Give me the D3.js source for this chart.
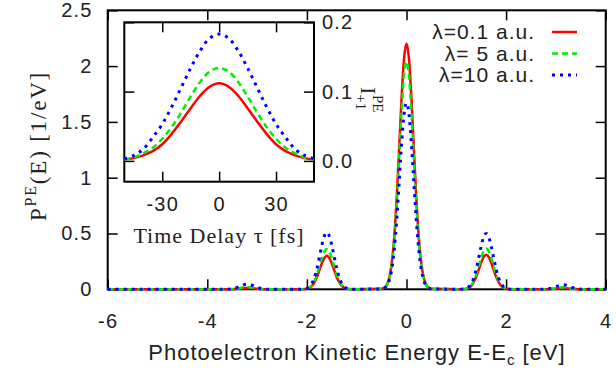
<!DOCTYPE html>
<html>
<head>
<meta charset="utf-8">
<script src="https://cdn.jsdelivr.net/npm/d3@7"></script>
<style>
  body { margin: 0; background: #fff; }
  svg { display: block; }
</style>
</head>
<body>
<figure id="chart" style="margin:0"></figure>
<script>
// main spectrum
const energy = [-6, -3.7,
  -3.6, -3.5, -3.4, -3.3, -3.2, -3.1, -3.0, -2.9, -2.8,
  -2.1, -2.05, -2.0, -1.95, -1.9, -1.85, -1.8, -1.75, -1.7, -1.65, -1.6, -1.55, -1.5, -1.45, -1.4, -1.35, -1.3, -1.25, -1.2, -1.15, -1.1,
  -0.5, -0.45, -0.4, -0.35, -0.3, -0.25, -0.2, -0.15, -0.1, -0.05, 0, 0.05, 0.1, 0.15, 0.2, 0.25, 0.3, 0.35, 0.4, 0.45, 0.5,
  1.1, 1.15, 1.2, 1.25, 1.3, 1.35, 1.4, 1.45, 1.5, 1.55, 1.6, 1.65, 1.7, 1.75, 1.8, 1.85, 1.9, 1.95, 2.0, 2.05, 2.1,
  2.75, 2.85, 2.95, 3.05, 3.15, 3.25, 3.35, 3.45, 3.55,
  4];
const specRed = [0, 0,
  0, 0.001, 0.004, 0.009, 0.012, 0.009, 0.004, 0.001, 0,
  0.001, 0.002, 0.005, 0.013, 0.030, 0.061, 0.108, 0.169, 0.233, 0.281, 0.300, 0.281, 0.233, 0.169, 0.108, 0.061, 0.030, 0.013, 0.005, 0.002, 0.001,
  0.004, 0.013, 0.037, 0.097, 0.222, 0.447, 0.792, 1.239, 1.705, 2.064, 2.20, 2.064, 1.705, 1.239, 0.792, 0.447, 0.222, 0.097, 0.037, 0.013, 0.004,
  0.001, 0.002, 0.005, 0.014, 0.031, 0.063, 0.112, 0.175, 0.240, 0.291, 0.310, 0.291, 0.240, 0.175, 0.112, 0.063, 0.031, 0.014, 0.005, 0.002, 0.001,
  0, 0.001, 0.004, 0.008, 0.010, 0.008, 0.004, 0.001, 0,
  0];
const specGreen = [0, 0,
  0, 0.002, 0.007, 0.016, 0.020, 0.016, 0.007, 0.002, 0,
  0.001, 0.002, 0.006, 0.016, 0.036, 0.073, 0.130, 0.203, 0.279, 0.338, 0.360, 0.338, 0.279, 0.203, 0.130, 0.073, 0.036, 0.016, 0.006, 0.002, 0.001,
  0.003, 0.012, 0.034, 0.090, 0.206, 0.414, 0.734, 1.149, 1.581, 1.914, 2.04, 1.914, 1.581, 1.149, 0.734, 0.414, 0.206, 0.090, 0.034, 0.012, 0.003,
  0.001, 0.002, 0.006, 0.016, 0.037, 0.074, 0.131, 0.205, 0.283, 0.342, 0.365, 0.342, 0.283, 0.205, 0.131, 0.074, 0.037, 0.016, 0.006, 0.002, 0.001,
  0, 0.002, 0.006, 0.014, 0.018, 0.014, 0.006, 0.002, 0,
  0];
const specBlue = [0, 0,
  0.001, 0.005, 0.017, 0.036, 0.047, 0.036, 0.017, 0.005, 0.001,
  0.001, 0.003, 0.009, 0.022, 0.052, 0.104, 0.184, 0.287, 0.395, 0.478, 0.510, 0.478, 0.395, 0.287, 0.184, 0.104, 0.052, 0.022, 0.009, 0.003, 0.001,
  0.003, 0.010, 0.028, 0.073, 0.169, 0.339, 0.601, 0.940, 1.294, 1.566, 1.67, 1.566, 1.294, 0.940, 0.601, 0.339, 0.169, 0.073, 0.028, 0.010, 0.003,
  0.001, 0.003, 0.008, 0.022, 0.051, 0.102, 0.180, 0.282, 0.388, 0.469, 0.500, 0.469, 0.388, 0.282, 0.180, 0.102, 0.051, 0.022, 0.008, 0.003, 0.001,
  0.001, 0.004, 0.014, 0.031, 0.040, 0.031, 0.014, 0.004, 0.001,
  0];

// inset: I_{+1} vs time delay
const delay = [-50, -45, -40, -35, -30, -25, -20, -15, -10, -5, 0, 5, 10, 15, 20, 25, 30, 35, 40, 45, 50];
const insetRed = [0.002, 0.004, 0.008, 0.014, 0.024, 0.039, 0.057, 0.076, 0.094, 0.107, 0.112, 0.107, 0.094, 0.076, 0.057, 0.039, 0.024, 0.014, 0.008, 0.004, 0.002];
const insetGreen = [0.002, 0.005, 0.011, 0.019, 0.032, 0.049, 0.070, 0.093, 0.114, 0.129, 0.134, 0.129, 0.114, 0.093, 0.070, 0.049, 0.032, 0.019, 0.011, 0.005, 0.002];
const insetBlue = [0.003, 0.008, 0.017, 0.034, 0.053, 0.078, 0.106, 0.134, 0.159, 0.177, 0.183, 0.177, 0.159, 0.134, 0.106, 0.078, 0.053, 0.034, 0.017, 0.008, 0.003];

const legendLabels = ["\u03bb=0.1 a.u.", "\u03bb= 5 a.u.", "\u03bb=10 a.u."];
const xTicks = [-6, -4, -2, 0, 2, 4];
const yTicks = [0, 0.5, 1, 1.5, 2, 2.5];
const insetXTicks = [-30, 0, 30];
const insetYTicks = [0.0, 0.1, 0.2];

const styles = [
  { color: "#ff0000", dash: null, width: 2.5 },
  { color: "#00ee00", dash: "6,4", width: 2.5 },
  { color: "#0000ff", dash: "3,5", width: 3 }
];

const W = 616, H = 371;
const sans = "'Liberation Sans', Arial, Helvetica, sans-serif";
const serif = "'Liberation Serif', 'Times New Roman', serif";

const svg = d3.select("#chart").append("svg")
  .attr("width", W).attr("height", H);

const x = d3.scaleLinear().domain([-6, 4]).range([107.7, 605.7]);
const y = d3.scaleLinear().domain([0, 2.5]).range([289.3, 10.3]);

function styleAxis(g) {
  g.attr("font-size", 20).attr("font-family", sans).attr("letter-spacing", 1.2);
  g.select(".domain").remove();
  g.selectAll(".tick line").attr("stroke-width", 1.5);
  g.selectAll(".tick text").attr("fill", "#222");
}

// main axes (ticks point inwards, mirrored)
svg.append("g").attr("transform", "translate(0," + y(0) + ")")
  .call(d3.axisBottom(x).tickValues(xTicks).tickSizeInner(-10).tickSizeOuter(0).tickPadding(25).tickFormat(d => String(d)))
  .call(styleAxis);
svg.append("g").attr("transform", "translate(0," + y(2.5) + ")")
  .call(d3.axisTop(x).tickValues(xTicks).tickSizeInner(-10).tickSizeOuter(0).tickFormat(""))
  .call(styleAxis);
svg.append("g").attr("transform", "translate(" + x(-6) + ",0)")
  .call(d3.axisLeft(y).tickValues(yTicks).tickSizeInner(-10).tickSizeOuter(0).tickPadding(15).tickFormat(d => String(d)))
  .call(styleAxis);
svg.append("g").attr("transform", "translate(" + x(4) + ",0)")
  .call(d3.axisRight(y).tickValues(yTicks).tickSizeInner(-10).tickSizeOuter(0).tickFormat(""))
  .call(styleAxis);

svg.append("rect")
  .attr("x", x(-6)).attr("y", y(2.5))
  .attr("width", x(4) - x(-6)).attr("height", y(0) - y(2.5))
  .attr("fill", "none").attr("stroke", "#000").attr("stroke-width", 2);

// spectrum lines
const mainSeries = [specRed, specGreen, specBlue];
const mainLine = d3.line()
  .x((d, i) => x(energy[i]))
  .y(d => y(d))
  .curve(d3.curveMonotoneX);

mainSeries.forEach((vals, k) => {
  svg.append("path")
    .datum(vals)
    .attr("d", mainLine)
    .attr("fill", "none")
    .attr("stroke", styles[k].color)
    .attr("stroke-width", styles[k].width)
    .attr("stroke-dasharray", styles[k].dash);
});

// legend
legendLabels.forEach((label, k) => {
  const ly = 32 + k * 21.5;
  svg.append("text")
    .attr("x", 535).attr("y", ly).attr("dy", "0.35em")
    .attr("text-anchor", "end")
    .attr("font-family", sans).attr("font-size", 21).attr("letter-spacing", 1).attr("fill", "#222")
    .text(label);
  svg.append("line")
    .attr("x1", 552).attr("x2", 577).attr("y1", ly).attr("y2", ly)
    .attr("stroke", styles[k].color)
    .attr("stroke-width", styles[k].width)
    .attr("stroke-dasharray", styles[k].dash);
});

// axis titles
const xt = svg.append("text")
  .attr("x", 357).attr("y", 360)
  .attr("text-anchor", "middle")
  .attr("font-family", sans).attr("font-size", 22).attr("letter-spacing", 1).attr("fill", "#222");
xt.append("tspan").text("Photoelectron Kinetic Energy E-E");
xt.append("tspan").attr("font-size", 15).attr("dy", 5).text("c");
xt.append("tspan").attr("dy", -5).text(" [eV]");

const yt = svg.append("text")
  .attr("transform", "translate(46,146) rotate(-90)")
  .attr("text-anchor", "middle")
  .attr("font-family", serif).attr("font-size", 23).attr("letter-spacing", 1.8).attr("fill", "#222");
yt.append("tspan").text("P");
yt.append("tspan").attr("font-size", 16).attr("dy", -10).text("PE");
yt.append("tspan").attr("dy", 10).text("(E) [1/eV]");

// inset
const ix = d3.scaleLinear().domain([-50, 50]).range([124.3, 314]);
const iy = d3.scaleLinear().domain([-0.03, 0.2]).range([181.7, 22.3]);

svg.append("rect")
  .attr("x", ix(-50)).attr("y", iy(0.2))
  .attr("width", ix(50) - ix(-50)).attr("height", iy(-0.03) - iy(0.2))
  .attr("fill", "#fff");

svg.append("g").attr("transform", "translate(0," + iy(-0.03) + ")")
  .call(d3.axisBottom(ix).tickValues(insetXTicks).tickSizeInner(-10).tickSizeOuter(0).tickPadding(15).tickFormat(d => String(d)))
  .call(styleAxis);
svg.append("g").attr("transform", "translate(0," + iy(0.2) + ")")
  .call(d3.axisTop(ix).tickValues(insetXTicks).tickSizeInner(-10).tickSizeOuter(0).tickFormat(""))
  .call(styleAxis);
svg.append("g").attr("transform", "translate(" + ix(-50) + ",0)")
  .call(d3.axisLeft(iy).tickValues(insetYTicks).tickSizeInner(-10).tickSizeOuter(0).tickFormat(""))
  .call(styleAxis);
svg.append("g").attr("transform", "translate(" + ix(50) + ",0)")
  .call(d3.axisRight(iy).tickValues(insetYTicks).tickSizeInner(-10).tickSizeOuter(0).tickPadding(8).tickFormat(d3.format(".1f")))
  .call(styleAxis);

svg.append("rect")
  .attr("x", ix(-50)).attr("y", iy(0.2))
  .attr("width", ix(50) - ix(-50)).attr("height", iy(-0.03) - iy(0.2))
  .attr("fill", "none").attr("stroke", "#000").attr("stroke-width", 2);

const insetSeries = [insetRed, insetGreen, insetBlue];
const insetLine = d3.line()
  .x((d, i) => ix(delay[i]))
  .y(d => iy(d))
  .curve(d3.curveCatmullRom);

insetSeries.forEach((vals, k) => {
  svg.append("path")
    .datum(vals)
    .attr("d", insetLine)
    .attr("fill", "none")
    .attr("stroke", styles[k].color)
    .attr("stroke-width", styles[k].width)
    .attr("stroke-dasharray", styles[k].dash);
});

svg.append("text")
  .attr("x", 219).attr("y", 243)
  .attr("text-anchor", "middle")
  .attr("font-family", serif).attr("font-size", 22).attr("letter-spacing", 1).attr("fill", "#222")
  .text("Time Delay \u03c4 [fs]");

const il = svg.append("g").attr("transform", "translate(361,87) rotate(90)")
  .append("text")
  .attr("font-family", serif).attr("font-size", 22).attr("fill", "#222");
il.append("tspan").text("I");
il.append("tspan").attr("font-size", 15).attr("dy", 5).text("+1");
il.append("tspan").attr("font-size", 15).attr("x", 8).attr("dy", -17).text("PE");
</script>
</body>
</html>
